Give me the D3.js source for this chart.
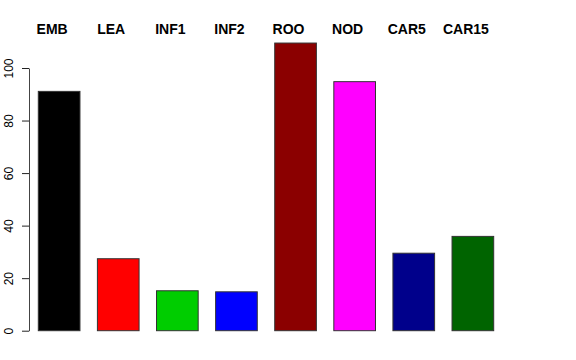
<!DOCTYPE html>
<html>
<head>
<meta charset="utf-8">
<script src="https://cdn.jsdelivr.net/npm/d3@7"></script>
<style>
  body { margin: 0; background: #fff; }
  svg { display: block; font-family: "Liberation Sans", Arial, sans-serif; }
</style>
</head>
<body>
<svg id="chart" width="576" height="360"></svg>
<script>
const categories = ['EMB', 'LEA', 'INF1', 'INF2', 'ROO', 'NOD', 'CAR5', 'CAR15'];
const values = [91.1, 27.4, 15.2, 14.8, 109.5, 94.8, 29.5, 35.9];
const colors = ['#000000', '#ff0000', '#00cd00', '#0000ff', '#8b0000', '#ff00ff', '#00008b', '#006400'];
const yTicks = [0, 20, 40, 60, 80, 100];

const svg = d3.select('#chart');

const x = d3.scaleBand()
  .domain(categories)
  .range([38.3, 493.7])
  .paddingInner(0.295)
  .paddingOuter(0);

const y = d3.scaleLinear()
  .domain([0, 100])
  .range([330.7, 68]);

// bars
svg.selectAll('rect.bar')
  .data(categories)
  .enter()
  .append('rect')
  .attr('class', 'bar')
  .attr('x', d => x(d))
  .attr('width', x.bandwidth())
  .attr('y', (d, i) => y(values[i]))
  .attr('height', (d, i) => y(0) - y(values[i]))
  .attr('fill', (d, i) => colors[i])
  .attr('stroke', '#333')
  .attr('stroke-width', 1);

// y axis, R style: the line only spans the tick range, labels turned
const axis = svg.append('g')
  .attr('transform', 'translate(29,0)')
  .call(d3.axisLeft(y).tickValues(yTicks).tickSize(7).tickSizeOuter(0));
axis.select('.domain').attr('stroke', '#444');
axis.selectAll('.tick line').attr('stroke', '#222');
axis.selectAll('.tick text')
  .attr('font-size', 12)
  .attr('fill', '#000')
  .attr('text-anchor', 'middle')
  .attr('transform', 'translate(-20,0) rotate(-90)')
  .attr('x', 0)
  .attr('y', 0)
  .attr('dy', '0.35em');

// category labels along the top
svg.selectAll('text.cat')
  .data(categories)
  .enter()
  .append('text')
  .attr('class', 'cat')
  .attr('x', d => x(d) + x.bandwidth() / 2 - 7)
  .attr('y', 34)
  .attr('text-anchor', 'middle')
  .attr('font-size', 14)
  .attr('font-weight', 'bold')
  .text(d => d);
</script>
</body>
</html>
